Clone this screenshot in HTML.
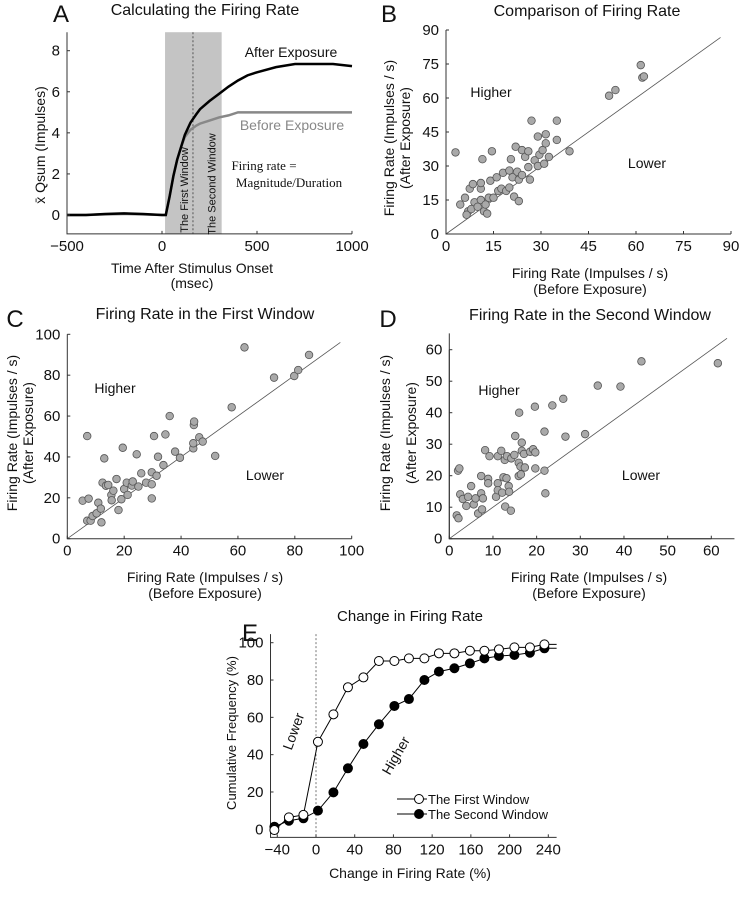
<!DOCTYPE html>
<html><head><meta charset="utf-8"><style>
html,body{margin:0;padding:0;background:#fff}
svg{display:block;font-family:"Liberation Sans",Arial,sans-serif}
</style></head><body>
<svg id="fig" width="744" height="899" viewBox="0 0 744 899" xmlns="http://www.w3.org/2000/svg"></svg>
<script>
// Panel A data
const aTime = [-500,-400,-300,-200,-100,0,20,40,60,80,100,120,150,180,200,250,300,350,400,450,500,600,700,800,900,1000];
const aAfter = [0,0,0.05,0.08,0.05,0,0,0.9,1.9,2.7,3.3,3.9,4.5,4.9,5.15,5.55,5.9,6.25,6.55,6.8,6.95,7.2,7.35,7.35,7.35,7.25];
const aBefore = [0,0,0.03,0.05,0.03,0,0,0.9,1.9,2.7,3.3,3.8,4.15,4.35,4.45,4.6,4.75,4.85,5.0,5.0,5.0,5.0,5.0,5.0,5.0,5.0];
const aTicksX = [-500,0,500,1000];
const aTicksY = [0,2,4,6,8];
const windowStart = 16, windowMid = 163, windowEnd = 314;
// Panel B data
const bX = [3,4.5,6,7.5,8.5,9,7,6.5,8,10,11,11,11,11.5,12,12.5,13,13.5,14,14.5,15,16,16.5,17.5,18,19,20,20.5,20,21,21.5,22,22.5,23,23,24,24,25,26,26,27,26.5,28,29,29,29.5,30.5,31,31.5,31.5,32.5,35,35,39,51.5,53.5,61.5,62,62.5];
const bY = [36,13,16,20,22,14,10,8.5,11,12,15,20,22.5,33,10,13,9,16,23.5,36.5,16,25,19,20,27,19,20.5,33,28,25,16.5,38.5,27.5,14.5,24,26,37,34,36.5,29.5,50,24,32.5,30,43,35,37,31,44,40,34,41.5,50,36.5,61,63.5,74.5,69,69.5];
const bTicks = [0,15,30,45,60,75,90];
// Panel C data
const cX = [5.4,7,7.5,7,8.2,8.9,10.3,10.9,11.8,12,12.4,13,13.6,14.4,15.5,16.2,15.6,17.3,18,19,19.5,20,20.9,21.2,22.7,23,24.4,25,26,27.7,29.7,29.7,29.7,30.5,31.4,31.9,33.8,34.5,36,37.9,39.6,44.3,44.3,44.5,44.6,46.4,47.6,52,57.8,72.7,62.3,79.8,81.2,85];
const cY = [18.6,50.2,19.6,8.8,8.8,11.1,12.4,17.6,14.7,8,27.4,39.3,25.9,26.3,21.4,23.5,18.8,29.2,14,19.3,44.5,24.3,27.4,21.4,26,28,41.3,25.5,32,27.4,32.5,26.6,19.7,50.2,30.8,40.1,36,51,60,42.6,39.6,44.2,46.7,55.6,57.3,49.6,47.5,40.5,64.3,78.8,93.6,79.6,82.5,89.9];
const cTicks = [0,20,40,60,80,100];
// Panel D data
const dX = [1.7,2.1,2,2.3,5,2.5,3.1,4.3,3.9,5.6,6,6.6,7.3,7.3,7.7,7.5,8.2,8.9,8.9,9.2,10.7,11.1,11.1,11.1,11.9,12.1,12.7,12.4,12.8,13.1,13.2,13.6,13.7,14.1,14.2,14.9,15.1,15.9,15.9,16,16.3,16.4,16.6,16.6,17.1,17.3,18.5,19.2,19.7,19.7,19.6,21.8,21.8,22,23.6,26.1,26.6,31.1,34,39.2,44,61.5];
const dY = [7.4,6.5,21.6,22.3,16.7,14.1,12.6,13.3,10.4,10.9,12.8,8,19.9,14.4,12.8,9.3,28.1,19,17.6,26.2,13.3,26.2,17.6,15.4,27.9,14.6,25,19.5,10.2,19.2,26.2,16.7,14.9,8.9,25.5,26.6,32.6,24.1,19.9,40,22.9,20.4,27.9,30.5,26.9,22.6,27.6,28.4,27.4,22.3,41.9,34,21.6,14.4,42.3,44.4,32.4,33.2,48.6,48.3,56.3,55.7];
const dTicks = [0,10,20,30,40,50,60];
// Panel E data
const eX = [-43,-28,-13,2,18,33,49,65,81,96,112,127,143,159,174,189,205,221,236];
const eFirst = [-0.4,6.4,7.7,46.9,61.6,76.1,81.4,90.2,90.2,91.6,91.6,94.3,94.3,95.7,95.7,96.4,97.5,97.5,99.1];
const eSecond = [1.4,4.6,5.9,10,19.8,32.7,45.7,56.3,66.1,69.8,80,84.5,86.3,88.9,91.6,92.9,93.4,94.6,97];
const eTicksX = [-40,0,40,80,120,160,200,240];
const eTicksY = [0,20,40,60,80,100];

const NS = "http://www.w3.org/2000/svg";
const svg = document.getElementById('fig');
function mk(tag, attrs, parent){const e=document.createElementNS(NS,tag);for(const k in attrs)e.setAttribute(k,attrs[k]);(parent||svg).appendChild(e);return e;}
function txt(s, x, y, size, opts){const e=mk('text',Object.assign({x:x,y:y,'font-size':size,fill:'#111','text-anchor':'middle'},opts||{}));e.textContent=s;return e;}
function lin(x0,x1,p0,p1){return v=>p0+(v-x0)/(x1-x0)*(p1-p0);}

function axes(g, sx, sy, xmin, xmax, ymin, ymax, xt, yt){
  const x0=sx(xmin), x1=sx(xmax), y0=sy(ymin), y1=sy(ymax);
  const ax=mk('path',{d:`M${x0},${y1}V${y0}H${x1}`,stroke:'#333','stroke-width':1,fill:'none'},g);
  
  
  xt.forEach(v=>{
    const tk=mk('line',{x1:sx(v),x2:sx(v),y1:y0,y2:y0-3,stroke:'#333'},g);
    
    
    const t=txt(String(v).replace('-','\u2212'),sx(v),y0+17,15,{});
    g.appendChild(t);
    
    
  });
  yt.forEach(v=>{
    const tk=mk('line',{x1:x0,x2:x0+3,y1:sy(v),y2:sy(v),stroke:'#333'},g);
    
    
    const t=txt(String(v),x0-7,sy(v)+5,15,{'text-anchor':'end'});
    g.appendChild(t);
    
    
  });
}
function group(name){const g=mk('g',{});return g;}
function label(g,s,x,y,size,name,opts){const t=txt(s,x,y,size,opts);g.appendChild(t);return t;}
function scatter(g,xs,ys,sx,sy,r){
  xs.forEach((v,i)=>{
    const c=mk('circle',{cx:sx(v),cy:sy(ys[i]),r:r,fill:'#a9a9a9',stroke:'#555','stroke-width':0.8},g);
    
    
  });
}

// ---------- Panel A
{
  const g=group('panel-a');
  const sx=lin(-500,1000,67,352), sy=lin(0,8,215,50.7);
  const sh=mk('rect',{x:sx(windowStart),y:sy(8.9),width:sx(windowEnd)-sx(windowStart),height:sy(-0.92)-sy(8.9),fill:'#c4c4c4'},g);
  
  
  const dl=mk('line',{x1:sx(windowMid),x2:sx(windowMid),y1:sy(8.9),y2:sy(-0.92),stroke:'#555','stroke-dasharray':'2,2'},g);
  
  
  const pb=mk('path',{d:aTime.map((t,i)=>(i?'L':'M')+sx(t)+','+sy(aBefore[i])).join(''),stroke:'#888','stroke-width':2.5,fill:'none'},g);
  
  
  const pa=mk('path',{d:aTime.map((t,i)=>(i?'L':'M')+sx(t)+','+sy(aAfter[i])).join(''),stroke:'#000','stroke-width':2.5,fill:'none'},g);
  
  
  axes(g,sx,sy,-500,1000,-0.92,8.9,aTicksX,aTicksY);
  label(g,'A',61,22,24,'panel-letter-a');
  label(g,'Calculating the Firing Rate',205,15,16,'panel-a-title');
  label(g,'After Exposure',291,57,14,'after-exposure-label');
  label(g,'Before Exposure',292,130,14,'before-exposure-label',{fill:'#888'});
  label(g,'Firing rate =',264,170,13,'firing-rate-formula-1',{'font-family':'"Liberation Serif",serif'});
  label(g,'Magnitude/Duration',289,187,13,'firing-rate-formula-2',{'font-family':'"Liberation Serif",serif'});
  label(g,'The First Window',0,0,11,'first-window-label',{transform:`translate(${sx(windowMid)-5},190) rotate(-90)`});
  label(g,'The Second Window',0,0,11,'second-window-label',{transform:`translate(${sx(windowEnd)-6},184) rotate(-90)`});
  label(g,'x\u0304 Qsum (Impulses)',0,0,14,'y-axis-title',{transform:'translate(45,145) rotate(-90)'});
  label(g,'Time After Stimulus Onset',192,273,14,'x-axis-title');
  label(g,'(msec)',192,288,14,'x-axis-unit');
}
// ---------- Panel B
{
  const g=group('panel-b');
  const sx=lin(0,90,446,731), sy=lin(0,90,234,30);
  const dg=mk('line',{x1:sx(0),y1:sy(0),x2:sx(86.7),y2:sy(86.7),stroke:'#555','stroke-width':0.8},g);
  
  
  axes(g,sx,sy,0,90,0,90,bTicks,bTicks);
  scatter(g,bX,bY,sx,sy,3.8);
  label(g,'B',389,22,24,'panel-letter-b');
  label(g,'Comparison of Firing Rate',587,16,16,'panel-b-title');
  label(g,'Higher',491,97,14,'higher-label');
  label(g,'Lower',647,168,14,'lower-label');
  label(g,'Firing Rate (Impulses / s)',0,0,14,'y-axis-title',{transform:'translate(394,138) rotate(-90)'});
  label(g,'(After Exposure)',0,0,14,'y-axis-subtitle',{transform:'translate(410,138) rotate(-90)'});
  label(g,'Firing Rate (Impulses / s)',590,278,14,'x-axis-title');
  label(g,'(Before Exposure)',590,294,14,'x-axis-subtitle');
}
// ---------- Panel C
{
  const g=group('panel-c');
  const sx=lin(0,100,67.3,351.7), sy=lin(0,100,538.7,334.3);
  const dg=mk('line',{x1:sx(0),y1:sy(0),x2:sx(96),y2:sy(96),stroke:'#555','stroke-width':0.8},g);
  
  
  axes(g,sx,sy,0,100,0,100,cTicks,cTicks);
  scatter(g,cX,cY,sx,sy,3.8);
  label(g,'C',15,327,24,'panel-letter-c');
  label(g,'Firing Rate in the First Window',205,319,16,'panel-c-title');
  label(g,'Higher',115,393,14,'higher-label');
  label(g,'Lower',265,480,14,'lower-label');
  label(g,'Firing Rate (Impulses / s)',0,0,14,'y-axis-title',{transform:'translate(17,433) rotate(-90)'});
  label(g,'(After Exposure)',0,0,14,'y-axis-subtitle',{transform:'translate(33,433) rotate(-90)'});
  label(g,'Firing Rate  (Impulses / s)',205,582,14,'x-axis-title');
  label(g,'(Before Exposure)',205,598,14,'x-axis-subtitle');
}
// ---------- Panel D
{
  const g=group('panel-d');
  const sx=lin(0,60,449.3,711.3), sy=lin(0,60,538.7,349.7);
  const dg=mk('line',{x1:sx(0),y1:sy(0),x2:sx(63.6),y2:sy(63.6),stroke:'#555','stroke-width':0.8},g);
  
  
  const ax=mk('path',{d:`M${sx(0)},${sy(65.2)}V${sy(0)}H${sx(65.3)}`,stroke:'#333',fill:'none'},g);
  
  
  axes(g,sx,sy,0,60,0,60,dTicks,dTicks);
  scatter(g,dX,dY,sx,sy,3.8);
  label(g,'D',388,327,24,'panel-letter-d');
  label(g,'Firing Rate in the Second Window',590,320,16,'panel-d-title');
  label(g,'Higher',499,395,14,'higher-label');
  label(g,'Lower',641,480,14,'lower-label');
  label(g,'Firing Rate  (Impulses / s)',0,0,14,'y-axis-title',{transform:'translate(390,433) rotate(-90)'});
  label(g,'(After Exposure)',0,0,14,'y-axis-subtitle',{transform:'translate(416,433) rotate(-90)'});
  label(g,'Firing Rate  (Impulses / s)',589,582,14,'x-axis-title');
  label(g,'(Before Exposure)',589,598,14,'x-axis-subtitle');
}
// ---------- Panel E
{
  const g=group('panel-e');
  const sx=lin(0,240,316,548.3), sy=lin(0,100,829.3,642.7);
  const xmin=-47, xmax=248.6;
  const dl=mk('line',{x1:sx(0),x2:sx(0),y1:sy(104.6),y2:sy(-4.3),stroke:'#777','stroke-dasharray':'2,2'},g);
  
  
  axes(g,sx,sy,xmin,xmax,-4.3,104.6,eTicksX,eTicksY);
  const l2=mk('path',{d:eX.map((v,i)=>(i?'L':'M')+sx(v)+','+sy(eSecond[i])).join('')+`L${sx(xmax)},${sy(eSecond[eSecond.length-1])}`,stroke:'#000','stroke-width':1,fill:'none'},g);
  
  
  const l1=mk('path',{d:eX.map((v,i)=>(i?'L':'M')+sx(v)+','+sy(eFirst[i])).join('')+`L${sx(xmax)},${sy(eFirst[eFirst.length-1])}`,stroke:'#000','stroke-width':1,fill:'none'},g);
  
  
  eX.forEach((v,i)=>{
    const c=mk('circle',{cx:sx(v),cy:sy(eSecond[i]),r:4.5,fill:'#000',stroke:'#000'},g);
    
    
  });
  eX.forEach((v,i)=>{
    const c=mk('circle',{cx:sx(v),cy:sy(eFirst[i]),r:4.5,fill:'#fff',stroke:'#000'},g);
    
    
  });
  label(g,'E',250,641,24,'panel-letter-e');
  label(g,'Change in Firing Rate',410,621,15,'panel-e-title');
  label(g,'Cumulative Frequency (%)',0,0,13,'y-axis-title',{transform:'translate(236,733) rotate(-90)'});
  label(g,'Change in Firing Rate (%)',410,878,14,'x-axis-title');
  label(g,'Lower',0,0,14,'lower-label',{transform:'translate(298,733) rotate(-70)'});
  label(g,'Higher',0,0,14,'higher-label',{transform:'translate(400,758) rotate(-60)'});
  const lg=mk('g',{},g);
  
  
  mk('line',{x1:397,x2:427,y1:799,y2:799,stroke:'#000'},lg);
  mk('circle',{cx:419,cy:799,r:4.5,fill:'#fff',stroke:'#000'},lg);
  label(lg,'The First Window',428,804,13,'legend-entry-first',{'text-anchor':'start'});
  mk('line',{x1:397,x2:427,y1:814,y2:814,stroke:'#000'},lg);
  mk('circle',{cx:419,cy:814,r:4.5,fill:'#000',stroke:'#000'},lg);
  label(lg,'The Second Window',428,819,13,'legend-entry-second',{'text-anchor':'start'});
}
</script>
</body></html>
